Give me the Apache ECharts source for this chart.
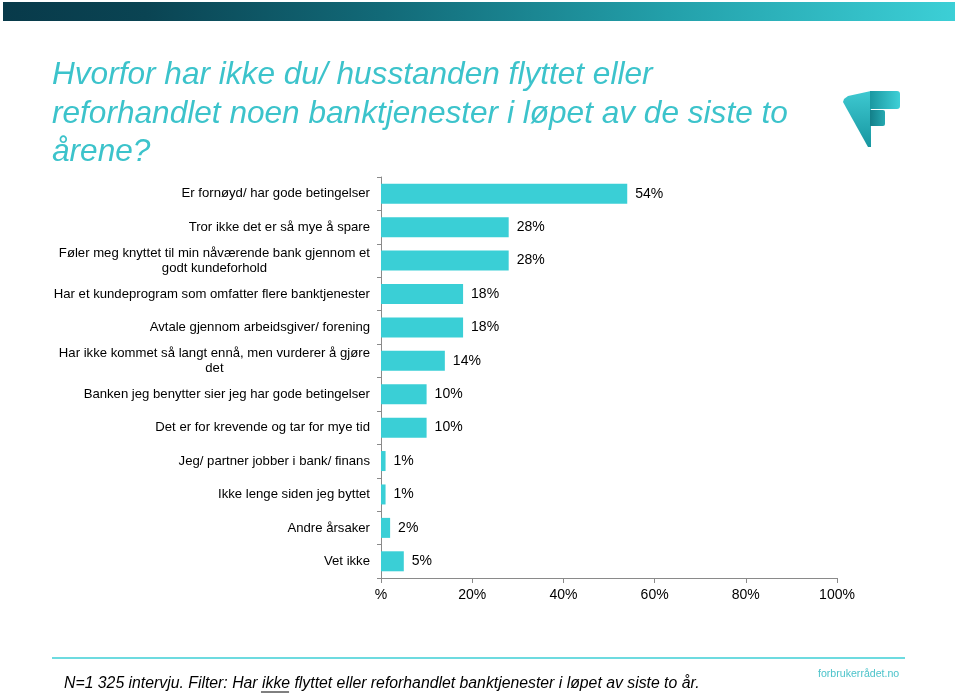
<!DOCTYPE html>
<html>
<head>
<meta charset="utf-8">
<script src="https://cdn.jsdelivr.net/npm/echarts@6/dist/echarts.min.js"></script>
<style>
  html, body { margin: 0; padding: 0; background: #fff; }
  #chart { width: 959px; height: 693px; }
</style>
</head>
<body>
<div id="chart"></div>
<script>
const titleLines = [
  'Hvorfor har ikke du/ husstanden flyttet eller',
  'reforhandlet noen banktjenester i løpet av de siste to',
  'årene?'
];
const categories = [
  'Er fornøyd/ har gode betingelser',
  'Tror ikke det er så mye å spare',
  'Føler meg knyttet til min nåværende bank gjennom et\ngodt kundeforhold',
  'Har et kundeprogram som omfatter flere banktjenester',
  'Avtale gjennom arbeidsgiver/ forening',
  'Har ikke kommet så langt ennå, men vurderer å gjøre\ndet',
  'Banken jeg benytter sier jeg har gode betingelser',
  'Det er for krevende og tar for mye tid',
  'Jeg/ partner jobber i bank/ finans',
  'Ikke lenge siden jeg byttet',
  'Andre årsaker',
  'Vet ikke'
];
const values = [54, 28, 28, 18, 18, 14, 10, 10, 1, 1, 2, 5];
const xTicks = [0, 20, 40, 60, 80, 100];
const footPre = 'N=1 325 intervju. Filter: Har ';
const footUnder = 'ikke';
const footPost = ' flyttet eller reforhandlet banktjenester i løpet av siste to år.';
const siteText = 'forbrukerrådet.no';

const FONT = '"Liberation Sans", Arial, sans-serif';
const chart = echarts.init(document.getElementById('chart'), null, { renderer: 'canvas' });

// measure for underline
const FOOT_FONT = 'italic 15.8px "Liberation Sans", Arial, sans-serif';
const ctx = document.createElement('canvas').getContext('2d');
ctx.font = FOOT_FONT;
const footX = 64;
const preW = ctx.measureText(footPre).width;
const underW = ctx.measureText(footUnder).width;

chart.setOption({
  animation: false,
  backgroundColor: '#ffffff',
  grid: { left: 381, right: 122, top: 177, bottom: 115, containLabel: false },
  xAxis: {
    type: 'value', min: xTicks[0], max: xTicks[xTicks.length - 1], interval: 20,
    axisLine: { show: true, lineStyle: { color: '#8a8a8a', width: 1 } },
    axisTick: { show: true, length: 5, lineStyle: { color: '#8a8a8a' } },
    splitLine: { show: false },
    axisLabel: {
      margin: 10, color: '#000', fontSize: 14, fontFamily: FONT,
      formatter: v => (v === 0 ? '%' : v + '%')
    }
  },
  yAxis: {
    type: 'category', data: categories, inverse: true,
    axisLine: { show: true, lineStyle: { color: '#8a8a8a', width: 1 } },
    axisTick: { show: true, length: 4, lineStyle: { color: '#8a8a8a' } },
    axisLabel: {
      margin: 11, color: '#000', fontSize: 13.15, fontFamily: FONT, lineHeight: 15,
      formatter: v => {
        const parts = v.split('\n');
        if (parts.length === 1) return '{r|' + v + '}';
        return parts.map(p => '{c|' + p + '}').join('\n');
      },
      rich: {
        r: { fontSize: 13.15, fontFamily: FONT, color: '#000', lineHeight: 15 },
        c: { fontSize: 13.15, fontFamily: FONT, color: '#000', lineHeight: 15, align: 'center' }
      }
    }
  },
  series: [{
    type: 'bar', data: values, barWidth: 20,
    itemStyle: { color: '#3acfd6' },
    label: {
      show: true, position: 'right', distance: 8,
      color: '#000', fontSize: 14, fontFamily: FONT,
      formatter: p => p.value + '%'
    }
  }],
  graphic: [
    {
      type: 'rect', left: 3, top: 2, z: 10,
      shape: { width: 952, height: 19 },
      style: {
        fill: new echarts.graphic.LinearGradient(0, 0, 1, 0, [
          { offset: 0, color: '#083a4a' },
          { offset: 0.15, color: '#0a4453' },
          { offset: 0.4, color: '#126a78' },
          { offset: 0.7, color: '#23a0aa' },
          { offset: 1, color: '#3ccfd6' }
        ])
      }
    },
    {
      type: 'text', left: 52, top: 56, z: 10,
      style: {
        text: titleLines.join('\n'), fill: '#3cc3cb',
        font: 'italic 31.6px "Liberation Sans", Arial, sans-serif', lineHeight: 38.5
      }
    },
    // logo
    {
      type: 'polygon', z: 10,
      shape: { points: [[843, 102], [844, 99], [848, 96], [871, 91], [871, 147], [868, 147]] },
      style: {
        fill: new echarts.graphic.LinearGradient(0, 0, 0, 1, [
          { offset: 0, color: '#3ec9d1' },
          { offset: 1, color: '#1796a0' }
        ])
      }
    },
    {
      type: 'rect', z: 11, shape: { x: 870, y: 91, width: 30, height: 18, r: [0, 3, 3, 0] },
      style: {
        fill: new echarts.graphic.LinearGradient(0, 0, 1, 0, [
          { offset: 0, color: '#1a98a1' },
          { offset: 1, color: '#3fd0d7' }
        ])
      }
    },
    {
      type: 'rect', z: 11, shape: { x: 870, y: 110, width: 15, height: 16, r: [0, 2, 2, 0] },
      style: {
        fill: new echarts.graphic.LinearGradient(0, 0, 1, 0, [
          { offset: 0, color: '#137f89' },
          { offset: 1, color: '#26a9b1' }
        ])
      }
    },
    // footer
    {
      type: 'line', z: 10,
      shape: { x1: 52, y1: 658, x2: 905, y2: 658 },
      style: { stroke: '#3ccfd6', lineWidth: 1.5 }
    },
    {
      type: 'text', left: footX, top: 676, z: 10,
      style: {
        text: footPre + footUnder + footPost, fill: '#000',
        font: FOOT_FONT
      }
    },
    {
      type: 'line', z: 10,
      shape: { x1: footX + preW - 1, y1: 692, x2: footX + preW + underW - 1, y2: 692 },
      style: { stroke: '#000', lineWidth: 1 }
    },
    {
      type: 'text', left: 818, top: 669, z: 10,
      style: {
        text: siteText, fill: '#4cc3ca',
        font: '10.6px "Liberation Sans", Arial, sans-serif'
      }
    }
  ]
});
</script>
</body>
</html>
